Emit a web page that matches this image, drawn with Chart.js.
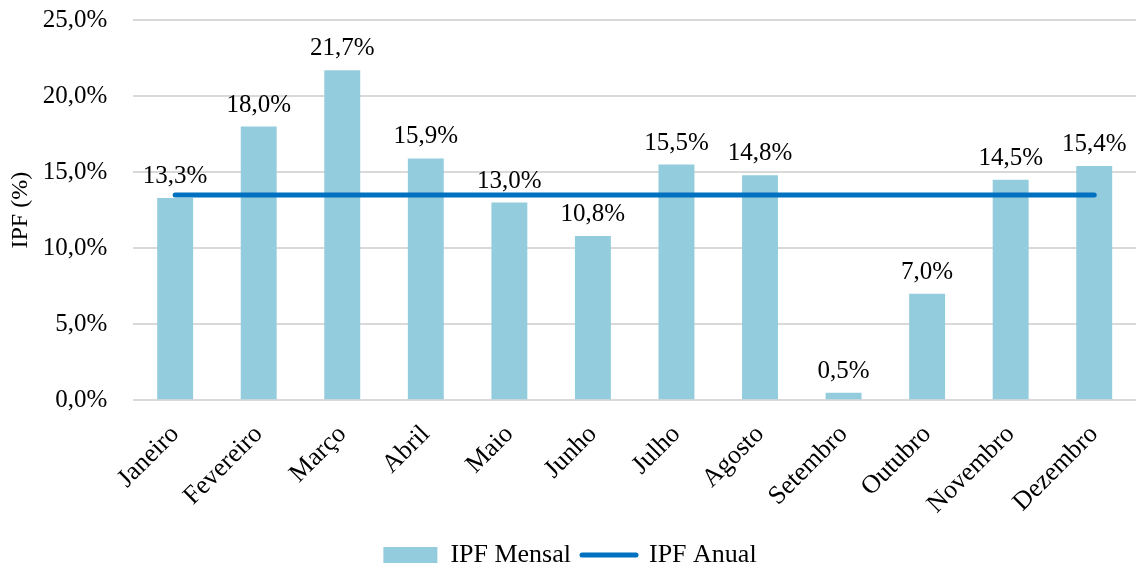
<!DOCTYPE html>
<html>
<head>
<meta charset="utf-8">
<script src="https://cdn.jsdelivr.net/npm/chart.js@4/dist/chart.umd.min.js"></script>
<style>
  html, body { margin: 0; padding: 0; background: #fff; }
  #wrap { width: 1138px; height: 572px; }
</style>
</head>
<body>
<div id="wrap"><canvas id="ipfChart"></canvas></div>
<script>
const MONTHS = ['Janeiro', 'Fevereiro', 'Março', 'Abril', 'Maio', 'Junho', 'Julho', 'Agosto', 'Setembro', 'Outubro', 'Novembro', 'Dezembro'];
const IPF_MENSAL = [13.3, 18.0, 21.7, 15.9, 13.0, 10.8, 15.5, 14.8, 0.5, 7.0, 14.5, 15.4];
const IPF_ANUAL = [13.5, 13.5, 13.5, 13.5, 13.5, 13.5, 13.5, 13.5, 13.5, 13.5, 13.5, 13.5];

const FONT = '"Liberation Serif", "Times New Roman", serif';
const fmt = v => v.toFixed(1).replace('.', ',') + '%';

// draws the value above each bar
const barLabels = {
    id: 'barLabels',
    afterDatasetsDraw(chart) {
        const ctx = chart.ctx;
        const meta = chart.getDatasetMeta(0);
        ctx.save();
        ctx.font = '25px ' + FONT;
        ctx.fillStyle = '#000';
        ctx.textAlign = 'center';
        ctx.textBaseline = 'bottom';
        meta.data.forEach((bar, i) => {
            ctx.fillText(fmt(IPF_MENSAL[i]), bar.x, bar.y - 9);
        });
        ctx.restore();
    }
};

// let layout padding alone decide the plot edges
const noAutoPad = scale => {
    scale.paddingLeft = 0;
    scale.paddingTop = 0;
    scale.paddingRight = 0;
};

new Chart(document.getElementById('ipfChart').getContext('2d'), {
    data: {
        labels: MONTHS,
        datasets: [
            {
                type: 'bar', label: 'IPF Mensal', data: IPF_MENSAL,
                backgroundColor: '#93CDDD', barPercentage: 0.43, categoryPercentage: 1, order: 2
            },
            {
                type: 'line', label: 'IPF Anual', data: IPF_ANUAL,
                borderColor: '#0070C0', backgroundColor: '#0070C0', borderWidth: 5,
                borderCapStyle: 'round', pointRadius: 0, order: 1
            }
        ]
    },
    options: {
        responsive: true,
        maintainAspectRatio: false,
        animation: false,
        layout: { padding: { left: 4, right: 2, top: 20, bottom: -6 } },
        plugins: {
            tooltip: { enabled: false },
            legend: {
                position: 'bottom',
                labels: {
                    font: { family: FONT, size: 26 },
                    color: '#000',
                    usePointStyle: true,
                    pointStyleWidth: 54,
                    boxHeight: 16,
                    padding: 11,
                    generateLabels(chart) {
                        return [
                            { text: 'IPF Mensal', pointStyle: 'rect', fillStyle: '#93CDDD', strokeStyle: '#93CDDD', lineWidth: 0, datasetIndex: 0 },
                            { text: 'IPF Anual', pointStyle: 'line', fillStyle: '#0070C0', strokeStyle: '#0070C0', lineWidth: 5, lineCap: 'round', datasetIndex: 1 }
                        ];
                    }
                }
            }
        },
        scales: {
            x: {
                grid: { display: false },
                border: { display: false },
                afterFit: noAutoPad,
                ticks: {
                    font: { family: FONT, size: 26 }, color: '#000',
                    minRotation: 45, maxRotation: 45, padding: 11
                }
            },
            y: {
                min: 0, max: 25,
                border: { display: false },
                afterFit(scale) {
                    noAutoPad(scale);
                    scale.width -= 26; // fit() counts tick padding twice
                },
                grid: { color: '#D9D9D9', lineWidth: 2, drawTicks: false },
                ticks: {
                    stepSize: 5, padding: 26,
                    font: { family: FONT, size: 25 }, color: '#000',
                    callback: v => fmt(v)
                },
                title: {
                    display: true, text: 'IPF (%)', color: '#000',
                    font: { family: FONT, size: 24 }, padding: { top: 2, bottom: 8 }
                }
            }
        }
    },
    plugins: [barLabels]
});
</script>
</body>
</html>
